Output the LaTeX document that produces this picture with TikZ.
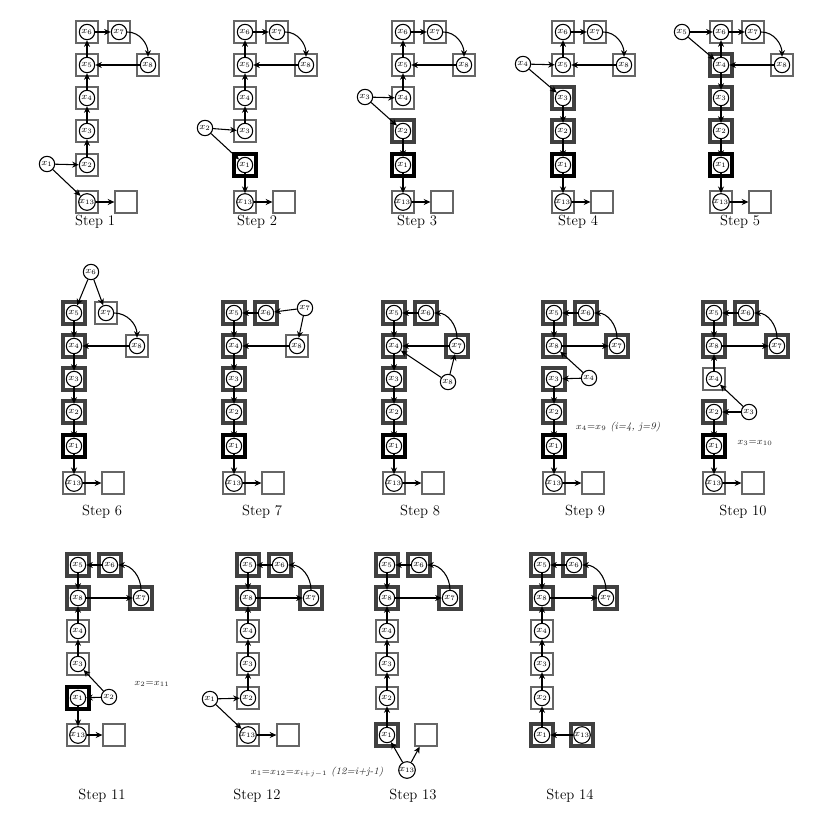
\documentclass[tikz,border=0pt]{standalone}
\usetikzlibrary{arrows.meta}

\tikzset{
  elt/.style={circle, draw, fill=white, line width=0.8pt, inner sep=0pt, minimum size=11.5pt, font=\fontsize{7}{7}\selectfont},
  box/.style={draw=black!60, line width=0.9pt, fill=white, minimum size=16.5pt, inner sep=0pt},
  tbox/.style={box, draw=black!75, line width=2.3pt},
  kbox/.style={box, draw=black, line width=2.6pt},
  arr/.style={-{Stealth[length=5pt, width=4.5pt]}, line width=0.8pt},
  steplabel/.style={font=\fontsize{11}{13}\selectfont},
  note/.style={font=\fontsize{7.5}{9}\selectfont\itshape, text=black!85}
}
% element = box with its circle
\newcommand{\elem}[4][box]{%
  \node[#1] (#2b) at (#4) {};
  \node[elt] (#2) at (#4) {$x_{#3}$};
}

\begin{document}
\begin{tikzpicture}[x=0.75pt, y=-0.75pt]
  \useasboundingbox (0,0) rectangle (836,837);

  % Step 1
  \begin{scope}[shift={(87,32)}]
    \elem{p1x6}{6}{0,0} \elem{p1x7}{7}{32,0} \elem{p1x8}{8}{61,33}
    \elem{p1x5}{5}{0,33} \elem{p1x4}{4}{0,66} \elem{p1x3}{3}{0,99}
    \elem{p1x2}{2}{0,133} \elem{p1x13}{13}{0,170}
    \node[box] (p1e) at (39,170) {};
    \node[elt] (p1x1) at (-40,132) {$x_1$};
    \draw[arr] (p1x2) -- (p1x3);
    \draw[arr] (p1x3) -- (p1x4);
    \draw[arr] (p1x4) -- (p1x5);
    \draw[arr] (p1x5) -- (p1x6);
    \draw[arr] (p1x6) -- (p1x7);
    \draw[arr] (p1x7) to[out=0, in=90] (p1x8);
    \draw[arr] (p1x8) -- (p1x5);
    \draw[arr] (p1x1) -- (p1x2);
    \draw[arr] (p1x1) -- (p1x13);
    \draw[arr] (p1x13) -- (p1e);
    \node[steplabel] (p1t) at (8,190) {Step 1};
  \end{scope}

  % Step 2
  \begin{scope}[shift={(245,32)}]
    \elem{p2x6}{6}{0,0} \elem{p2x7}{7}{32,0} \elem{p2x8}{8}{61,33}
    \elem{p2x5}{5}{0,33} \elem{p2x4}{4}{0,66} \elem{p2x3}{3}{0,99}
    \elem[kbox]{p2x1}{1}{0,133} \elem{p2x13}{13}{0,170}
    \node[box] (p2e) at (39,170) {};
    \node[elt] (p2x2) at (-40,96) {$x_2$};
    \draw[arr] (p2x3) -- (p2x4);
    \draw[arr] (p2x4) -- (p2x5);
    \draw[arr] (p2x5) -- (p2x6);
    \draw[arr] (p2x6) -- (p2x7);
    \draw[arr] (p2x7) to[out=0, in=90] (p2x8);
    \draw[arr] (p2x8) -- (p2x5);
    \draw[arr] (p2x2) -- (p2x3);
    \draw[arr] (p2x2) -- (p2x1);
    \draw[arr] (p2x1) -- (p2x13);
    \draw[arr] (p2x13) -- (p2e);
    \node[steplabel] (p2t) at (12,190) {Step 2};
  \end{scope}

  % Step 3
  \begin{scope}[shift={(403,32)}]
    \elem{p3x6}{6}{0,0} \elem{p3x7}{7}{32,0} \elem{p3x8}{8}{61,33}
    \elem{p3x5}{5}{0,33} \elem{p3x4}{4}{0,66} \elem[tbox]{p3x2}{2}{0,99}
    \elem[kbox]{p3x1}{1}{0,133} \elem{p3x13}{13}{0,170}
    \node[box] (p3e) at (39,170) {};
    \node[elt] (p3x3) at (-38,65) {$x_3$};
    \draw[arr] (p3x4) -- (p3x5);
    \draw[arr] (p3x5) -- (p3x6);
    \draw[arr] (p3x6) -- (p3x7);
    \draw[arr] (p3x7) to[out=0, in=90] (p3x8);
    \draw[arr] (p3x8) -- (p3x5);
    \draw[arr] (p3x3) -- (p3x4);
    \draw[arr] (p3x3) -- (p3x2);
    \draw[arr] (p3x2) -- (p3x1);
    \draw[arr] (p3x1) -- (p3x13);
    \draw[arr] (p3x13) -- (p3e);
    \node[steplabel] (p3t) at (14,190) {Step 3};
  \end{scope}

  % Step 4
  \begin{scope}[shift={(563,32)}]
    \elem{p4x6}{6}{0,0} \elem{p4x7}{7}{32,0} \elem{p4x8}{8}{61,33}
    \elem{p4x5}{5}{0,33} \elem[tbox]{p4x3}{3}{0,66} \elem[tbox]{p4x2}{2}{0,99}
    \elem[kbox]{p4x1}{1}{0,133} \elem{p4x13}{13}{0,170}
    \node[box] (p4e) at (39,170) {};
    \node[elt] (p4x4) at (-40,32) {$x_4$};
    \draw[arr] (p4x5) -- (p4x6);
    \draw[arr] (p4x6) -- (p4x7);
    \draw[arr] (p4x7) to[out=0, in=90] (p4x8);
    \draw[arr] (p4x8) -- (p4x5);
    \draw[arr] (p4x4) -- (p4x5);
    \draw[arr] (p4x4) -- (p4x3);
    \draw[arr] (p4x3) -- (p4x2);
    \draw[arr] (p4x2) -- (p4x1);
    \draw[arr] (p4x1) -- (p4x13);
    \draw[arr] (p4x13) -- (p4e);
    \node[steplabel] (p4t) at (15,190) {Step 4};
  \end{scope}

  % Step 5
  \begin{scope}[shift={(721,32)}]
    \elem{p5x6}{6}{0,0} \elem{p5x7}{7}{32,0} \elem{p5x8}{8}{61,33}
    \elem[tbox]{p5x4}{4}{0,33} \elem[tbox]{p5x3}{3}{0,66} \elem[tbox]{p5x2}{2}{0,99}
    \elem[kbox]{p5x1}{1}{0,133} \elem{p5x13}{13}{0,170}
    \node[box] (p5e) at (39,170) {};
    \node[elt] (p5x5) at (-39,0) {$x_5$};
    \draw[arr] (p5x4) -- (p5x6);
    \draw[arr] (p5x6) -- (p5x7);
    \draw[arr] (p5x7) to[out=0, in=90] (p5x8);
    \draw[arr] (p5x8) -- (p5x4);
    \draw[arr] (p5x5) -- (p5x6);
    \draw[arr] (p5x5) -- (p5x4);
    \draw[arr] (p5x4) -- (p5x3);
    \draw[arr] (p5x3) -- (p5x2);
    \draw[arr] (p5x2) -- (p5x1);
    \draw[arr] (p5x1) -- (p5x13);
    \draw[arr] (p5x13) -- (p5e);
    \node[steplabel] (p5t) at (19,190) {Step 5};
  \end{scope}

  % Step 6
  \begin{scope}[shift={(74,313)}]
    \elem[tbox]{p6x5}{5}{0,0} \elem{p6x7}{7}{32,0} \elem{p6x8}{8}{63,33}
    \elem[tbox]{p6x4}{4}{0,33} \elem[tbox]{p6x3}{3}{0,66} \elem[tbox]{p6x2}{2}{0,99}
    \elem[kbox]{p6x1}{1}{0,133} \elem{p6x13}{13}{0,170}
    \node[box] (p6e) at (39,170) {};
    \node[elt] (p6x6) at (17,-41) {$x_6$};
    \draw[arr] (p6x6) -- (p6x5);
    \draw[arr] (p6x6) -- (p6x7);
    \draw[arr] (p6x7) to[out=0, in=90] (p6x8);
    \draw[arr] (p6x8) -- (p6x4);
    \draw[arr] (p6x5) -- (p6x4);
    \draw[arr] (p6x4) -- (p6x3);
    \draw[arr] (p6x3) -- (p6x2);
    \draw[arr] (p6x2) -- (p6x1);
    \draw[arr] (p6x1) -- (p6x13);
    \draw[arr] (p6x13) -- (p6e);
    \node[steplabel] (p6t) at (28,199) {Step 6};
  \end{scope}

  % Step 7
  \begin{scope}[shift={(234,313)}]
    \elem[tbox]{p7x5}{5}{0,0} \elem[tbox]{p7x6}{6}{32,0} \elem{p7x8}{8}{63,33}
    \elem[tbox]{p7x4}{4}{0,33} \elem[tbox]{p7x3}{3}{0,66} \elem[tbox]{p7x2}{2}{0,99}
    \elem[kbox]{p7x1}{1}{0,133} \elem{p7x13}{13}{0,170}
    \node[box] (p7e) at (39,170) {};
    \node[elt] (p7x7) at (71,-5) {$x_7$};
    \draw[arr] (p7x6) -- (p7x5);
    \draw[arr] (p7x7) -- (p7x6);
    \draw[arr] (p7x7) -- (p7x8);
    \draw[arr] (p7x8) -- (p7x4);
    \draw[arr] (p7x5) -- (p7x4);
    \draw[arr] (p7x4) -- (p7x3);
    \draw[arr] (p7x3) -- (p7x2);
    \draw[arr] (p7x2) -- (p7x1);
    \draw[arr] (p7x1) -- (p7x13);
    \draw[arr] (p7x13) -- (p7e);
    \node[steplabel] (p7t) at (28,199) {Step 7};
  \end{scope}

  % Step 8
  \begin{scope}[shift={(394,313)}]
    \elem[tbox]{p8x5}{5}{0,0} \elem[tbox]{p8x6}{6}{32,0} \elem[tbox]{p8x7}{7}{63,33}
    \elem[tbox]{p8x4}{4}{0,33} \elem[tbox]{p8x3}{3}{0,66} \elem[tbox]{p8x2}{2}{0,99}
    \elem[kbox]{p8x1}{1}{0,133} \elem{p8x13}{13}{0,170}
    \node[box] (p8e) at (39,170) {};
    \node[elt] (p8x8) at (54,69) {$x_8$};
    \draw[arr] (p8x6) -- (p8x5);
    \draw[arr] (p8x7) to[out=90, in=0] (p8x6);
    \draw[arr] (p8x7) -- (p8x4);
    \draw[arr] (p8x8) -- (p8x7);
    \draw[arr] (p8x8) -- (p8x4);
    \draw[arr] (p8x5) -- (p8x4);
    \draw[arr] (p8x4) -- (p8x3);
    \draw[arr] (p8x3) -- (p8x2);
    \draw[arr] (p8x2) -- (p8x1);
    \draw[arr] (p8x1) -- (p8x13);
    \draw[arr] (p8x13) -- (p8e);
    \node[steplabel] (p8t) at (26,199) {Step 8};
  \end{scope}

  % Step 9
  \begin{scope}[shift={(554,313)}]
    \elem[tbox]{p9x5}{5}{0,0} \elem[tbox]{p9x6}{6}{32,0}
    \elem[tbox]{p9x8}{8}{0,33} \elem[tbox]{p9x7}{7}{63,33}
    \elem[tbox]{p9x3}{3}{0,66} \elem[tbox]{p9x2}{2}{0,99}
    \elem[kbox]{p9x1}{1}{0,133} \elem{p9x13}{13}{0,170}
    \node[box] (p9e) at (39,170) {};
    \node[elt] (p9x4) at (35,65) {$x_4$};
    \draw[arr] (p9x6) -- (p9x5);
    \draw[arr] (p9x7) to[out=90, in=0] (p9x6);
    \draw[arr] (p9x8) -- (p9x7);
    \draw[arr] (p9x5) -- (p9x8);
    \draw[arr] (p9x4) -- (p9x3);
    \draw[arr] (p9x4) -- (p9x8);
    \draw[arr] (p9x3) -- (p9x2);
    \draw[arr] (p9x2) -- (p9x1);
    \draw[arr] (p9x1) -- (p9x13);
    \draw[arr] (p9x13) -- (p9e);
    \node[note] (p9n) at (64,114) {$x_4{=}x_9$ (i=4, j=9)};
    \node[steplabel] (p9t) at (31,199) {Step 9};
  \end{scope}

  % Step 10
  \begin{scope}[shift={(714,313)}]
    \elem[tbox]{p10x5}{5}{0,0} \elem[tbox]{p10x6}{6}{32,0}
    \elem[tbox]{p10x8}{8}{0,33} \elem[tbox]{p10x7}{7}{63,33}
    \elem{p10x4}{4}{0,66} \elem[tbox]{p10x2}{2}{0,99}
    \elem[kbox]{p10x1}{1}{0,133} \elem{p10x13}{13}{0,170}
    \node[box] (p10e) at (39,170) {};
    \node[elt] (p10x3) at (35,99) {$x_3$};
    \draw[arr] (p10x6) -- (p10x5);
    \draw[arr] (p10x7) to[out=90, in=0] (p10x6);
    \draw[arr] (p10x8) -- (p10x7);
    \draw[arr] (p10x5) -- (p10x8);
    \draw[arr] (p10x4) -- (p10x8);
    \draw[arr] (p10x3) -- (p10x4);
    \draw[arr] (p10x3) -- (p10x2);
    \draw[arr] (p10x2) -- (p10x1);
    \draw[arr] (p10x1) -- (p10x13);
    \draw[arr] (p10x13) -- (p10e);
    \node[note] (p10n) at (41,130) {$x_3{=}x_{10}$};
    \node[steplabel] (p10t) at (29,199) {Step 10};
  \end{scope}

  % Step 11
  \begin{scope}[shift={(78,565)}]
    \elem[tbox]{p11x5}{5}{0,0} \elem[tbox]{p11x6}{6}{32,0}
    \elem[tbox]{p11x8}{8}{0,33} \elem[tbox]{p11x7}{7}{63,33}
    \elem{p11x4}{4}{0,66} \elem{p11x3}{3}{0,99}
    \elem[kbox]{p11x1}{1}{0,133} \elem{p11x13}{13}{0,170}
    \node[box] (p11e) at (36,170) {};
    \node[elt] (p11x2) at (31,132) {$x_2$};
    \draw[arr] (p11x6) -- (p11x5);
    \draw[arr] (p11x7) to[out=90, in=0] (p11x6);
    \draw[arr] (p11x8) -- (p11x7);
    \draw[arr] (p11x5) -- (p11x8);
    \draw[arr] (p11x4) -- (p11x8);
    \draw[arr] (p11x3) -- (p11x4);
    \draw[arr] (p11x2) -- (p11x3);
    \draw[arr] (p11x2) -- (p11x1);
    \draw[arr] (p11x1) -- (p11x13);
    \draw[arr] (p11x13) -- (p11e);
    \node[note] (p11n) at (74,119) {$x_2{=}x_{11}$};
    \node[steplabel] (p11t) at (24,231) {Step 11};
  \end{scope}

  % Step 12
  \begin{scope}[shift={(248,565)}]
    \elem[tbox]{p12x5}{5}{0,0} \elem[tbox]{p12x6}{6}{32,0}
    \elem[tbox]{p12x8}{8}{0,33} \elem[tbox]{p12x7}{7}{63,33}
    \elem{p12x4}{4}{0,66} \elem{p12x3}{3}{0,99}
    \elem{p12x2}{2}{0,133} \elem{p12x13}{13}{0,170}
    \node[box] (p12e) at (40,170) {};
    \node[elt] (p12x1) at (-38,134) {$x_1$};
    \draw[arr] (p12x6) -- (p12x5);
    \draw[arr] (p12x7) to[out=90, in=0] (p12x6);
    \draw[arr] (p12x8) -- (p12x7);
    \draw[arr] (p12x5) -- (p12x8);
    \draw[arr] (p12x4) -- (p12x8);
    \draw[arr] (p12x3) -- (p12x4);
    \draw[arr] (p12x2) -- (p12x3);
    \draw[arr] (p12x1) -- (p12x2);
    \draw[arr] (p12x1) -- (p12x13);
    \draw[arr] (p12x13) -- (p12e);
    \node[note] (p12n) at (69,207) {$x_1{=}x_{12}{=}x_{i+j-1}$ (12=i+j-1)};
    \node[steplabel] (p12t) at (9,231) {Step 12};
  \end{scope}

  % Step 13
  \begin{scope}[shift={(387,565)}]
    \elem[tbox]{p13x5}{5}{0,0} \elem[tbox]{p13x6}{6}{32,0}
    \elem[tbox]{p13x8}{8}{0,33} \elem[tbox]{p13x7}{7}{63,33}
    \elem{p13x4}{4}{0,66} \elem{p13x3}{3}{0,99}
    \elem{p13x2}{2}{0,133} \elem[tbox]{p13x1}{1}{0,170}
    \node[box] (p13e) at (39,170) {};
    \node[elt] (p13x13) at (20,205) {$x_{13}$};
    \draw[arr] (p13x6) -- (p13x5);
    \draw[arr] (p13x7) to[out=90, in=0] (p13x6);
    \draw[arr] (p13x8) -- (p13x7);
    \draw[arr] (p13x5) -- (p13x8);
    \draw[arr] (p13x4) -- (p13x8);
    \draw[arr] (p13x3) -- (p13x4);
    \draw[arr] (p13x2) -- (p13x3);
    \draw[arr] (p13x1) -- (p13x2);
    \draw[arr] (p13x13) -- (p13x1);
    \draw[arr] (p13x13) -- (p13e);
    \node[steplabel] (p13t) at (26,231) {Step 13};
  \end{scope}

  % Step 14
  \begin{scope}[shift={(542,565)}]
    \elem[tbox]{p14x5}{5}{0,0} \elem[tbox]{p14x6}{6}{32,0}
    \elem[tbox]{p14x8}{8}{0,33} \elem[tbox]{p14x7}{7}{64,33}
    \elem{p14x4}{4}{0,66} \elem{p14x3}{3}{0,99}
    \elem{p14x2}{2}{0,133} \elem[tbox]{p14x1}{1}{0,170}
    \elem[tbox]{p14x13}{13}{40,170}
    \draw[arr] (p14x6) -- (p14x5);
    \draw[arr] (p14x7) to[out=90, in=0] (p14x6);
    \draw[arr] (p14x8) -- (p14x7);
    \draw[arr] (p14x5) -- (p14x8);
    \draw[arr] (p14x4) -- (p14x8);
    \draw[arr] (p14x3) -- (p14x4);
    \draw[arr] (p14x2) -- (p14x3);
    \draw[arr] (p14x1) -- (p14x2);
    \draw[arr] (p14x13) -- (p14x1);
    \node[steplabel] (p14t) at (28,231) {Step 14};
  \end{scope}

\end{tikzpicture}
\end{document}
